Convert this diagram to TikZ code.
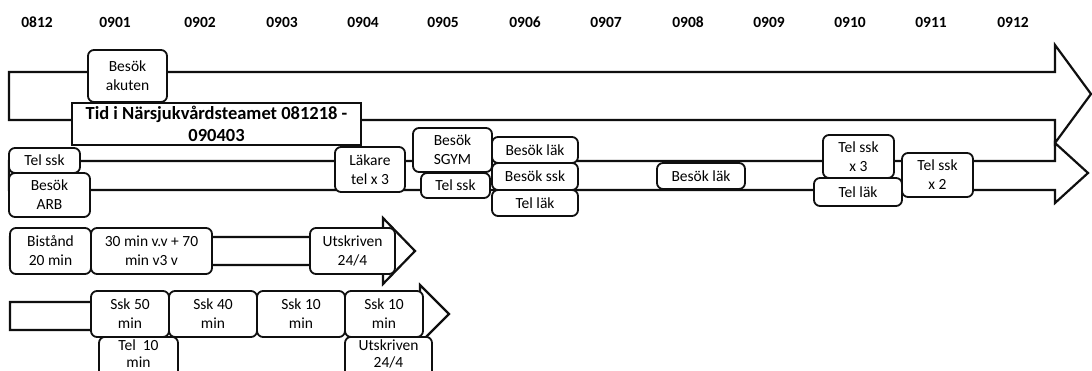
\documentclass[tikz,border=0pt]{standalone}
\usepackage{fontspec}
\setmainfont{Carlito}
\usepackage{xcolor}
\definecolor{inkcol}{RGB}{15,15,15}
\definecolor{papercol}{RGB}{255,255,255}
\newcommand{\boxfont}{\fontsize{15.5}{19}\selectfont}
\newcommand{\evt}[6]{\node[evt, minimum width={#4-#2}, minimum height={#5-#3}]
  (#1) at ({(#2+#4)/2},{(#3+#5)/2}) {#6};}

\begin{document}
\begin{tikzpicture}[x=1pt, y=-1pt, line join=miter,
  evt/.style={draw=inkcol, line width=1.8pt, fill=papercol, rounded corners=6pt,
    align=center, inner sep=1pt, font=\boxfont},
  lowevt/.style={evt, anchor=north, inner ysep=2.5pt, text depth=12pt,
    font=\fontsize{15.5}{17.5}\selectfont},
  band/.style={draw=inkcol, line width=2.2pt, fill=papercol},
  month/.style={font=\boxfont\bfseries, inner sep=1pt}]

\clip (0,0) rectangle (1092,371);
\fill[white] (0,0) rectangle (1092,371);

% ------------------------------------------------------------------
% Month scale along the top
% ------------------------------------------------------------------
\foreach \m/\x in {0812/37, 0901/115, 0902/200, 0903/282, 0904/363, 0905/443,
    0906/525, 0907/606, 0908/688, 0909/769, 0910/850, 0911/931, 0912/1013}{
  \node[month] (m\m) at (\x,22) {\m};
}

% ------------------------------------------------------------------
% Block arrows (one per track)
% ------------------------------------------------------------------
\draw[band] (9,72) -- (1055,72) -- (1055,45) -- (1091,94) -- (1055,143)
  -- (1055,120) -- (9,120) -- cycle;                 % track 1
\draw[band] (9,161) -- (1055,161) -- (1055,143) -- (1088,173) -- (1055,203)
  -- (1055,190) -- (9,190) -- cycle;                 % track 2
\draw[band] (10,237) -- (383,237) -- (383,218) -- (415,251) -- (383,284)
  -- (383,265) -- (10,265) -- cycle;                 % track 3
\draw[band] (10,302) -- (420,302) -- (420,285) -- (449,314) -- (420,343)
  -- (420,330) -- (10,330) -- cycle;                 % track 4

% ------------------------------------------------------------------
% Track 1
% ------------------------------------------------------------------
\evt{akuten}{88}{50}{167}{102}{Besök\\akuten}
\node[evt, rounded corners=0pt, font=\fontsize{18.5}{22}\selectfont\bfseries,
  minimum width=289, minimum height=42] (tid) at (216.5,124)
  {Tid i Närsjukvårdsteamet 081218 -\\090403};

% ------------------------------------------------------------------
% Track 2
% ------------------------------------------------------------------
\evt{telsskA}{9}{148}{80}{173}{Tel ssk}
\evt{arb}{9}{173}{90}{217}{Besök\\ARB}
\evt{lakare}{335}{147}{405}{192}{Läkare\\tel x 3}
\evt{sgym}{413}{128}{492}{172}{Besök\\SGYM}
\evt{telsskB}{421}{173}{490}{198}{Tel ssk}
\evt{besoklakA}{492}{137}{578}{163}{Besök läk}
\evt{besokssk}{492}{163}{578}{190}{Besök ssk}
\evt{tellakA}{492}{190}{578}{216}{Tel läk}
\evt{besoklakB}{657}{163}{745}{189}{Besök läk}
\evt{telsskC}{823}{135}{894}{178}{Tel ssk\\x 3}
\evt{tellakB}{814}{178}{902}{206}{Tel läk}
\evt{telsskD}{902}{153}{973}{197}{Tel ssk\\x 2}

% ------------------------------------------------------------------
% Track 3
% ------------------------------------------------------------------
\evt{bistand}{10}{228}{91}{274}{Bistånd\\20 min}
\evt{vv}{91}{228}{212}{274}{30 min v.v + 70\\min v3 v}
\evt{utskrA}{310}{228}{395}{274}{Utskriven\\24/4}

% ------------------------------------------------------------------
% Track 4 (the two lowest boxes run past the lower edge)
% ------------------------------------------------------------------
\evt{sskA}{91}{291}{169}{337}{Ssk 50\\min}
\evt{sskB}{169}{291}{257}{337}{Ssk 40\\min}
\evt{sskC}{257}{291}{345}{337}{Ssk 10\\min}
\evt{sskD}{345}{291}{423}{337}{Ssk 10\\min}
\node[lowevt, minimum width=79] (telten) at (138.5,336) {Tel~~10\\min};
\node[lowevt, minimum width=87] (utskrB) at (388.5,336) {Utskriven\\24/4};

\end{tikzpicture}
\end{document}
